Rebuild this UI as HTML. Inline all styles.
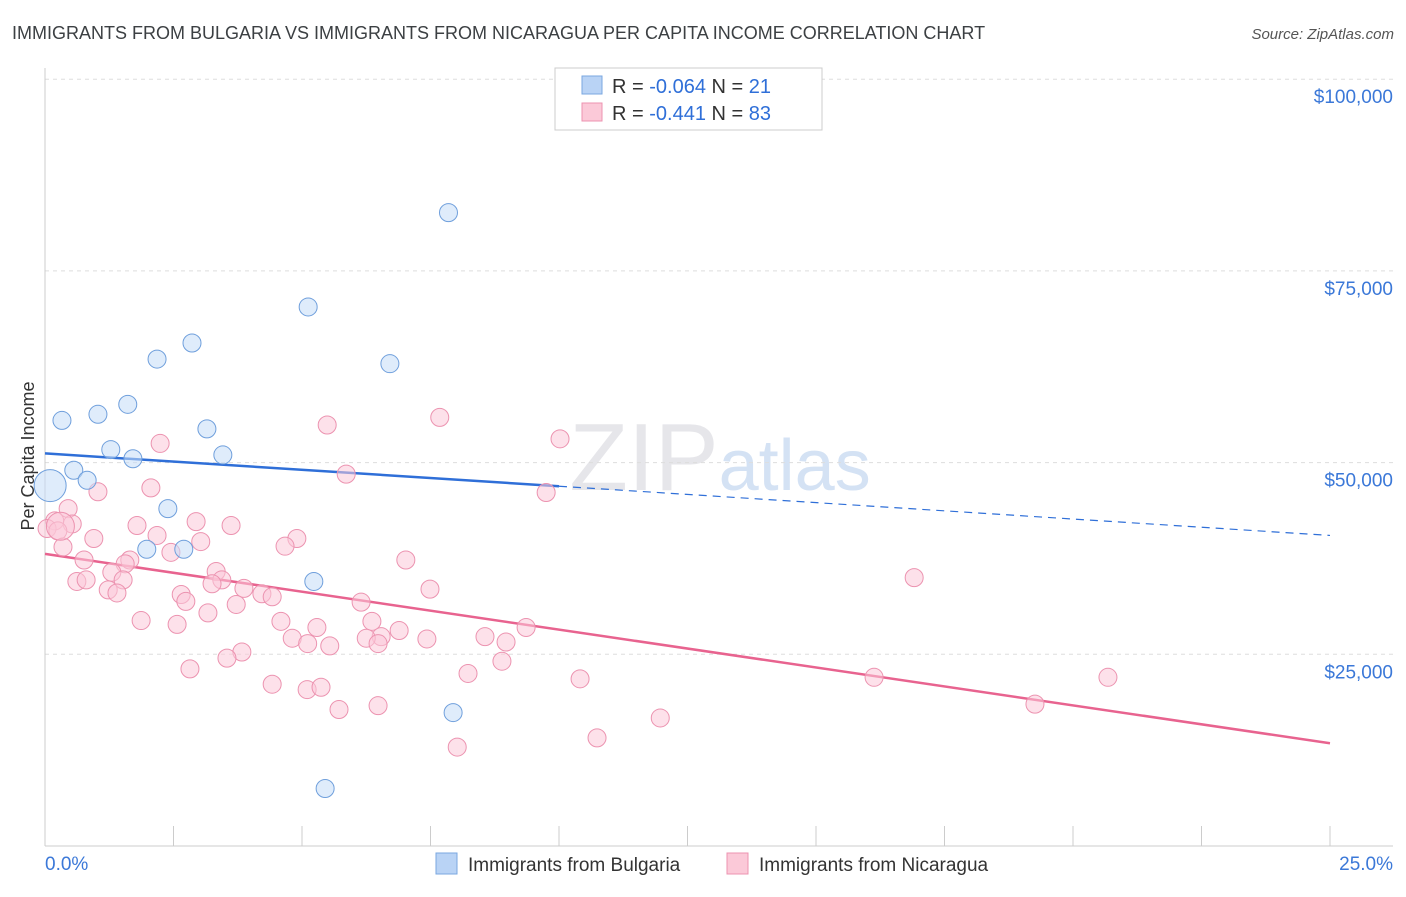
<!DOCTYPE html>
<html><head><meta charset="utf-8"><style>
body{margin:0;background:#fff;font-family:"Liberation Sans",sans-serif;}
svg text{font-family:"Liberation Sans",sans-serif;}
</style></head><body>
<svg width="1406" height="892" xmlns="http://www.w3.org/2000/svg" id="chart">
<text x="12" y="39" font-size="18" fill="#3c4043">IMMIGRANTS FROM BULGARIA VS IMMIGRANTS FROM NICARAGUA PER CAPITA INCOME CORRELATION CHART</text>
<text x="1394" y="39" font-size="15" fill="#555" font-style="italic" text-anchor="end">Source: ZipAtlas.com</text>
<text x="720" y="490" font-size="96" fill="#e6e6ea" text-anchor="middle" font-family="Liberation Serif">ZIP<tspan fill="#d4e2f4" font-family="Liberation Sans" font-size="72">atlas</tspan></text>
<g id="grid"></g>
<g id="axes"></g>
<g id="lines"></g>
<g id="pts"></g>
<text transform="translate(34,456) rotate(-90)" font-size="18" fill="#333" text-anchor="middle">Per Capita Income</text>
<g>
<rect x="555" y="68" width="267" height="62" fill="#fff" stroke="#ccc"/>
<rect x="582" y="76" width="20" height="18" fill="#b9d3f5" stroke="#7aa7e0"/>
<rect x="582" y="103" width="20" height="18" fill="#fbc9d8" stroke="#ec93b0"/>
<text x="612" y="93" font-size="20" fill="#333">R = <tspan fill="#2f6fd8">-0.064</tspan>   N =  <tspan fill="#2f6fd8">21</tspan></text>
<text x="612" y="120" font-size="20" fill="#333">R =  <tspan fill="#2f6fd8">-0.441</tspan>   N = <tspan fill="#2f6fd8">83</tspan></text>
</g>
<g>
<rect x="436" y="853" width="21" height="21" fill="#b9d3f5" stroke="#7aa7e0"/>
<text x="468" y="871" font-size="19" fill="#333">Immigrants from Bulgaria</text>
<rect x="727" y="853" width="21" height="21" fill="#fbc9d8" stroke="#ec93b0"/>
<text x="759" y="871" font-size="19" fill="#333">Immigrants from Nicaragua</text>
</g>
</svg>
<script>
const yTicks=[25000,50000,75000,100000];
const yTickLabels=["$25,000","$50,000","$75,000","$100,000"];
const xTickLabels=["0.0%","25.0%"];
const bulgariaX=[7.85,5.12,2.86,2.18,6.71,0.33,1.03,1.61,3.15,1.28,1.71,3.46,0.56,0.82,0.1,2.39,1.98,2.7,5.23,7.94,5.45];
const bulgariaY=[82600,70300,65600,63500,62900,55500,56300,57600,54400,51700,50500,51000,49000,47700,47000,44000,38700,38700,34500,17400,7500];
const bulgariaR=[9,9,9,9,9,9,9,9,9,9,9,9,9,9,16,9,9,9,9,9,9];
const nicX=[2.24,5.49,7.68,10.02,5.86,9.75,1.03,2.06,0.45,0.19,0.53,0.04,0.25,1.79,2.94,3.62,0.95,2.18,3.03,0.35,4.9,4.67,2.45,7.02,0.76,1.65,1.56,1.3,3.33,3.44,1.52,0.62,0.8,3.25,1.23,1.4,3.87,4.22,4.42,2.65,2.74,3.72,6.15,7.49,16.91,1.87,3.17,2.57,4.59,6.36,5.29,6.54,6.89,6.25,4.81,7.43,8.56,8.97,9.36,5.11,5.54,6.48,3.83,3.54,8.89,2.82,8.23,10.41,16.13,20.68,4.42,5.1,5.37,19.26,5.72,6.48,11.97,10.74,8.02,0.3];
const nicY=[52500,54900,55900,53100,48500,46100,46200,46700,44000,42400,42000,41400,41100,41800,42300,41800,40100,40500,39700,39000,40100,39100,38300,37300,37300,37300,36800,35700,35800,34700,34700,34500,34700,34200,33400,33000,33600,32900,32500,32800,31900,31500,31800,33500,35000,29400,30400,28900,29300,29300,28500,27300,28100,27100,27100,27000,27300,26600,28500,26400,26100,26400,25300,24500,24100,23100,22500,21800,22000,22000,21100,20400,20700,18500,17800,18300,16700,14100,12900,41700];
const nicR=[9,9,9,9,9,9,9,9,9,9,9,9,9,9,9,9,9,9,9,9,9,9,9,9,9,9,9,9,9,9,9,9,9,9,9,9,9,9,9,9,9,9,9,9,9,9,9,9,9,9,9,9,9,9,9,9,9,9,9,9,9,9,9,9,9,9,9,9,9,9,9,9,9,9,9,9,9,9,9,14];
const bulgariaTrend=[[0,51200],[25,40500]];
const nicTrend=[[0,38100],[25,13400]];
const X=v=>45+v/25*1285, Y=v=>846-v/25000*191.7;
const NS="http://www.w3.org/2000/svg";
function mk(p,t,a){const e=document.createElementNS(NS,t);for(const k in a)e.setAttribute(k,a[k]);p.appendChild(e);return e;}
const grid=document.getElementById('grid'),axes=document.getElementById('axes'),lines=document.getElementById('lines'),pts=document.getElementById('pts');
yTicks.forEach((t,i)=>{
 const l=mk(grid,'line',{x1:45,x2:1393,y1:Y(t),y2:Y(t),stroke:'#ddd','stroke-dasharray':'4,4'});
 
 
 const tx=mk(axes,'text',{x:1393,y:Y(t)+24,'font-size':19,fill:'#3b78d8','text-anchor':'end'});
 tx.textContent=yTickLabels[i];
 
 
});
const xAxis=mk(axes,'line',{x1:45,x2:1393,y1:846,y2:846,stroke:'#ccc'});


const yAxis=mk(axes,'line',{x1:45,x2:45,y1:68,y2:846,stroke:'#ccc'});


for(let i=0;i<=10;i++){const tk=mk(axes,'line',{x1:X(i*2.5),x2:X(i*2.5),y1:826,y2:846,stroke:'#ccc'});
 
 }
[[0,'start',45],[25,'end',1393]].forEach((d,i)=>{const tx=mk(axes,'text',{x:d[2],y:870,'font-size':19,fill:'#3b78d8','text-anchor':d[1]});tx.textContent=xTickLabels[i];
 
 });
function pointsOf(xs,ys,rs,fill,stroke,name){xs.forEach((x,i)=>{const c=mk(pts,'circle',{cx:X(x),cy:Y(ys[i]),r:rs[i],fill:fill,'fill-opacity':0.55,stroke:stroke,'stroke-width':1});
 
 });}
pointsOf(nicX,nicY,nicR,'#fbc9d8','#ec93b0','point-nicaragua');
pointsOf(bulgariaX,bulgariaY,bulgariaR,'#c5dcf7','#6f9fdc','point-bulgaria');
const bx=10.0, by=bulgariaTrend[0][1]+(bulgariaTrend[1][1]-bulgariaTrend[0][1])*bx/25;
const b1=mk(lines,'line',{x1:X(0),y1:Y(bulgariaTrend[0][1]),x2:X(bx),y2:Y(by),stroke:'#2f6fd8','stroke-width':2.5});


const b2=mk(lines,'line',{x1:X(bx),y1:Y(by),x2:X(25),y2:Y(bulgariaTrend[1][1]),stroke:'#2f6fd8','stroke-width':1.2,'stroke-dasharray':'8,6'});


const n1=mk(lines,'line',{x1:X(0),y1:Y(nicTrend[0][1]),x2:X(25),y2:Y(nicTrend[1][1]),stroke:'#e8638f','stroke-width':2.5});


</script>
</body></html>
